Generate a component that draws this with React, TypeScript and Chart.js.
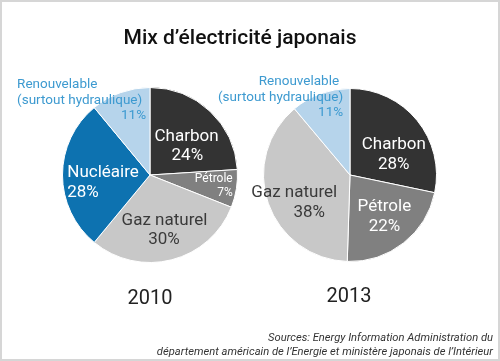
import React, { useEffect, useRef } from "react";
import { Chart, registerables } from "chart.js";

Chart.register(...registerables);

const categories = ["Charbon", "Pétrole", "Gaz naturel", "Nucléaire", "Renouvelable"];
const renewableSubtitle = "(surtout hydraulique)";
const values2010 = [24, 7, 30, 28, 11];
const categories2013 = ["Charbon", "Pétrole", "Gaz naturel", "Renouvelable"];
const values2013 = [28, 22, 38, 11];
const years = ["2010", "2013"];
const titleText = "Mix d\u2019électricité japonais";
const sourceLines = [
  "Sources: Energy Information Administration du",
  "département américain de l\u2019Energie et ministère japonais de l\u2019Intérieur",
];

const FONT = "Roboto, 'Noto Sans', sans-serif";

const colorMap: Record<string, string> = {
  Charbon: "#333333",
  "Pétrole": "#808080",
  "Gaz naturel": "#c8c8c8",
  "Nucléaire": "#0d72b0",
  Renouvelable: "#b6d4eb",
};
const textColorMap: Record<string, string> = {
  Charbon: "#ffffff",
  "Pétrole": "#ffffff",
  "Gaz naturel": "#3a3a3a",
  "Nucléaire": "#ffffff",
  Renouvelable: "#3d9ad0",
};

type LineSpec = { dx: number; dy: number; align: CanvasTextAlign };
type LabelSpec = { size: number; lines: LineSpec[] };

// label layout (offsets from each arc's centre point)
const layout2010: Record<string, LabelSpec> = {
  Charbon: { size: 17, lines: [{ dx: 6.6, dy: -5.9, align: "center" }, { dx: 7.4, dy: 13.1, align: "center" }] },
  "Pétrole": { size: 12, lines: [{ dx: 39.5, dy: -2.9, align: "right" }, { dx: 39.5, dy: 11.1, align: "right" }] },
  "Gaz naturel": { size: 17, lines: [{ dx: 3.6, dy: 3.4, align: "center" }, { dx: 3.1, dy: 22.4, align: "center" }] },
  "Nucléaire": { size: 17, lines: [{ dx: -39, dy: -2, align: "left" }, { dx: -39, dy: 18, align: "left" }] },
  Renouvelable: {
    size: 13.5,
    lines: [
      { dx: -118.1, dy: -49.6, align: "left" },
      { dx: -118.1, dy: -33.6, align: "left" },
      { dx: 10.9, dy: -18.6, align: "right" },
    ],
  },
};
const layout2013: Record<string, LabelSpec> = {
  Charbon: { size: 17, lines: [{ dx: 10.2, dy: -2.6, align: "center" }, { dx: 10.2, dy: 17.4, align: "center" }] },
  "Pétrole": { size: 17, lines: [{ dx: 7.6, dy: -2.2, align: "center" }, { dx: 7.8, dy: 17.8, align: "center" }] },
  "Gaz naturel": { size: 17, lines: [{ dx: -14.9, dy: 3.8, align: "center" }, { dx: 0.1, dy: 23.8, align: "center" }] },
  Renouvelable: {
    size: 13.5,
    lines: [
      { dx: 3.9, dy: -53.1, align: "right" },
      { dx: 7.9, dy: -37.1, align: "right" },
      { dx: 7.9, dy: -22.1, align: "right" },
    ],
  },
};

const sliceLabelPlugin = {
  id: "sliceLabels",
  afterDatasetsDraw(chart: any, _args: any, opts: any) {
    const { ctx } = chart;
    const meta = chart.getDatasetMeta(0);
    const labels: string[] = chart.data.labels;
    const data: number[] = chart.data.datasets[0].data;
    const layout: Record<string, LabelSpec> = opts.layout;
    meta.data.forEach((arc: any, i: number) => {
      const name = labels[i];
      const spec = layout[name];
      if (!spec) return;
      const p = arc.tooltipPosition();
      const texts = name === "Renouvelable" ? [name, renewableSubtitle, `${data[i]}%`] : [name, `${data[i]}%`];
      ctx.save();
      ctx.fillStyle = textColorMap[name];
      ctx.font = `${spec.size}px ${FONT}`;
      ctx.textBaseline = "middle";
      texts.forEach((t, j) => {
        const l = spec.lines[j];
        ctx.textAlign = l.align;
        ctx.fillText(t, p.x + l.dx, p.y + l.dy);
      });
      ctx.restore();
    });
  },
};

function PieChart({ labels, values, layout, padding }: any) {
  const ref = useRef<HTMLCanvasElement>(null);
  useEffect(() => {
    const chart = new Chart(ref.current!, {
      type: "pie",
      data: {
        labels,
        datasets: [
          {
            data: values,
            backgroundColor: labels.map((l: string) => colorMap[l]),
            borderColor: "#ffffff",
            borderWidth: 1,
          },
        ],
      },
      options: {
        animation: false,
        responsive: false,
        events: [],
        layout: { padding },
        plugins: {
          legend: { display: false },
          tooltip: { enabled: false },
          sliceLabels: { layout },
        } as any,
      },
      plugins: [sliceLabelPlugin],
    });
    return () => chart.destroy();
  }, []);
  return (
    <canvas
      ref={ref}
      width={500}
      height={361}
      style={{ position: "absolute", left: 0, top: 0, width: 500, height: 361 }}
    />
  );
}

export default function App() {
  return (
    <div
      style={{
        position: "absolute",
        left: 0,
        top: 0,
        width: 500,
        height: 361,
        background: "#ffffff",
        overflow: "hidden",
        fontFamily: FONT,
      }}
    >
      <div
        style={{
          position: "absolute",
          left: 0,
          top: 0,
          width: 500,
          height: 361,
          boxSizing: "border-box",
          border: "2px solid #d6d6d6",
        }}
      />
      <PieChart
        labels={categories}
        values={values2010}
        layout={layout2010}
        padding={{ left: 62, right: 262, top: 87, bottom: 98 }}
      />
      <PieChart
        labels={categories2013}
        values={values2013}
        layout={layout2013}
        padding={{ left: 263, right: 63, top: 88, bottom: 99 }}
      />
      <div
        style={{
          position: "absolute",
          left: 0,
          width: 480,
          top: 26,
          height: 22,
          lineHeight: "22px",
          fontSize: 21,
          fontWeight: 500,
          color: "#111111",
          textAlign: "center",
          whiteSpace: "nowrap",
        }}
      >
        {titleText}
      </div>
      {years.map((y, i) => (
        <div
          key={y}
          style={{
            position: "absolute",
            left: i === 0 ? 100 : 299,
            width: 100,
            top: i === 0 ? 286 : 284,
            height: 22,
            lineHeight: "22px",
            fontSize: 20,
            color: "#222222",
            textAlign: "center",
          }}
        >
          {y}
        </div>
      ))}
      <div
        style={{
          position: "absolute",
          right: 7,
          top: 331,
          fontSize: 11.2,
          lineHeight: "13.5px",
          fontStyle: "italic",
          color: "#333333",
          textAlign: "right",
          whiteSpace: "nowrap",
        }}
      >
        {sourceLines.map((s) => (
          <div key={s}>{s}</div>
        ))}
      </div>
    </div>
  );
}
